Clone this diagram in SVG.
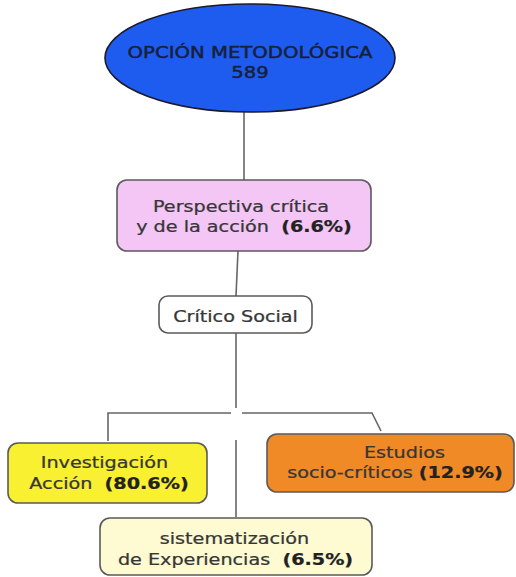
<svg xmlns="http://www.w3.org/2000/svg" width="516" height="577" viewBox="0 0 516 577">
<style>
.box{stroke:#5a5a5a;stroke-width:1.6}
.t{font-family:"DejaVu Sans",Verdana,sans-serif;font-size:16px;fill:#363636;stroke:#363636;stroke-width:0.25;text-anchor:middle}
.h{fill:#17203a;stroke:#17203a;stroke-width:0.45}
.b{font-weight:bold;fill:#222;stroke:#222}
.c{fill:none;stroke:#666;stroke-width:1.6}
</style>
<rect width="516" height="577" fill="#fff"/>
<g id="connectors">
<path class="c" d="M244 112 V181"/>
<path class="c" d="M238 251 L236 296"/>
<path class="c" d="M236 333 V408"/>
<path class="c" d="M108 441 V413 H231"/>
<path class="c" d="M242 413 H372 L381 431"/>
<path class="c" d="M236 440 V517"/>
</g>
<g id="n-opcion">
<ellipse cx="250" cy="58" rx="145" ry="54" fill="#1e5cf0" stroke="#1a1a2a" stroke-width="1.6"/>
<text class="t h" transform="translate(250,58) scale(1.23,1)">OPCIÓN METODOLÓGICA</text>
<text class="t h" transform="translate(250,78) scale(1.23,1)">589</text>
</g>
<g id="n-perspectiva">
<rect class="box" x="117" y="180" width="254" height="71" rx="10" fill="#f3c6f5"/>
<text class="t" transform="translate(241,212) scale(1.2,1)">Perspectiva crítica</text>
<text class="t" transform="translate(244,232) scale(1.2,1)" xml:space="preserve">y de la acción  <tspan class="b">(6.6%)</tspan></text>
</g>
<g id="n-critico">
<rect class="box" x="159" y="296" width="153" height="37" rx="9" fill="#fff"/>
<text class="t" transform="translate(235.5,322) scale(1.2,1)">Crítico Social</text>
</g>
<g id="n-investigacion">
<rect class="box" x="8" y="443" width="199" height="60" rx="10" fill="#f9f032"/>
<text class="t" transform="translate(104.5,468) scale(1.2,1)">Investigación</text>
<text class="t" transform="translate(109,489) scale(1.2,1)" xml:space="preserve">Acción  <tspan class="b">(80.6%)</tspan></text>
</g>
<g id="n-estudios">
<rect class="box" x="267" y="434" width="247" height="58" rx="10" fill="#f08a26"/>
<text class="t" transform="translate(404.5,458) scale(1.2,1)">Estudios</text>
<text class="t" transform="translate(395,478) scale(1.2,1)">socio-críticos <tspan class="b">(12.9%)</tspan></text>
</g>
<g id="n-sistematizacion">
<rect class="box" x="100" y="518" width="272" height="57" rx="10" fill="#fefbd2"/>
<text class="t" transform="translate(234.5,544) scale(1.2,1)">sistematización</text>
<text class="t" transform="translate(235.5,565) scale(1.2,1)" xml:space="preserve">de Experiencias  <tspan class="b">(6.5%)</tspan></text>
</g>
</svg>
